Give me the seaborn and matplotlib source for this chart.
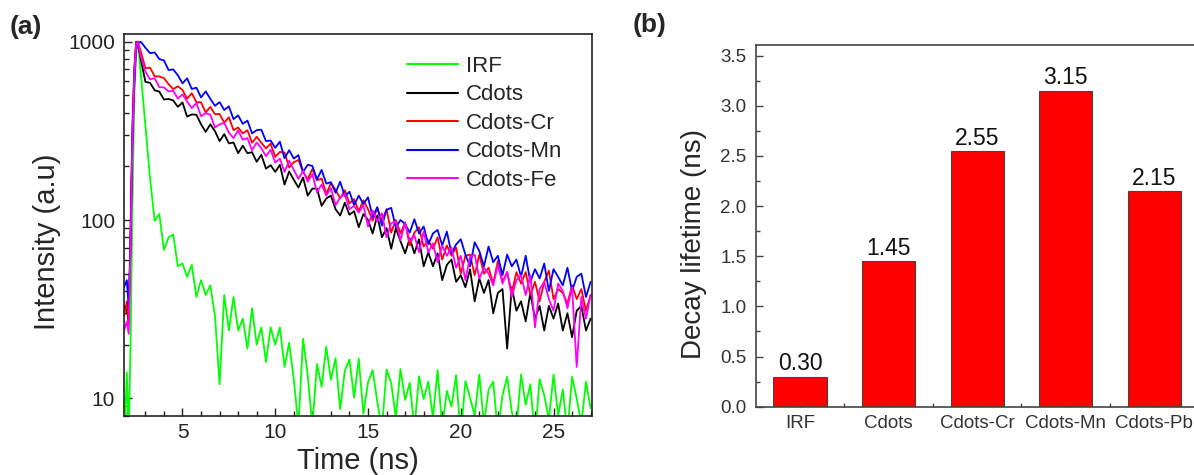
import numpy as np
import pandas as pd
import matplotlib
matplotlib.use("Agg")
import matplotlib.pyplot as plt
import seaborn as sns
from matplotlib.lines import Line2D
from matplotlib.ticker import LogLocator, NullFormatter, MultipleLocator, FormatStrFormatter

sns.set_style("ticks")
plt.rcParams["font.family"] = ["Liberation Sans", "DejaVu Sans"]

# ---- panel (a): time-resolved PL decay ----
time_head = [1.85, 2.0, 2.1, 2.2, 2.3, 2.4, 2.5, 2.6]
time_tail = [
    2.75, 3.0, 3.25, 3.5, 3.75, 4.0, 4.25, 4.5, 4.75, 5.0,
    5.25, 5.5, 5.75, 6.0, 6.25, 6.5, 6.75, 7.0, 7.25, 7.5,
    7.75, 8.0, 8.25, 8.5, 8.75, 9.0, 9.25, 9.5, 9.75, 10.0,
    10.25, 10.5, 10.75, 11.0, 11.25, 11.5, 11.75, 12.0, 12.25, 12.5,
    12.75, 13.0, 13.25, 13.5, 13.75, 14.0, 14.25, 14.5, 14.75, 15.0,
    15.25, 15.5, 15.75, 16.0, 16.25, 16.5, 16.75, 17.0, 17.25, 17.5,
    17.75, 18.0, 18.25, 18.5, 18.75, 19.0, 19.25, 19.5, 19.75, 20.0,
    20.25, 20.5, 20.75, 21.0, 21.25, 21.5, 21.75, 22.0, 22.25, 22.5,
    22.75, 23.0, 23.25, 23.5, 23.75, 24.0, 24.25, 24.5, 24.75, 25.0,
    25.25, 25.5, 25.75, 26.0, 26.25, 26.5, 26.75, 27.0,
]
time_ns = time_head + time_tail

irf = [
    5, 14, 6, 20, 120, 500, 900, 1000,
    667, 339, 172, 99, 108, 68, 80, 83, 55, 57,
    48, 56, 37, 46, 38, 43, 29, 12, 38, 24,
    37, 24, 28, 19, 32, 20, 25, 16, 25, 20,
    25, 15, 20.5, 12.7, 7, 21.6, 13.5, 7, 15.6, 11.6,
    19.5, 12.7, 16.8, 8.7, 14.3, 16.5, 10.1, 16.7, 8.2, 12.3,
    14.4, 9.6, 6.7, 14.5, 12.2, 7.8, 14.6, 9.8, 12.2, 6.7,
    13.3, 9.9, 12.4, 7.8, 14.4, 6.9, 11, 9, 13.5, 6.1,
    12.5, 10.1, 8, 13.6, 7.2, 11.2, 12.4, 6.4, 10.4, 13.2,
    8.4, 6.8, 13.6, 9.2, 12, 6, 12.8, 10.4, 7.6, 13.6,
    8, 11.2, 6.4, 13.2, 10, 7.2, 12.4, 8.8,
]
cdots = [
    33, 31, 27, 90, 330, 700, 1000, 960,
    800, 595, 588, 534, 525, 474, 477, 468, 431, 456,
    380, 391, 389, 344, 312, 344, 315, 277, 303, 269,
    272, 237, 261, 237, 240, 212, 232, 194, 203, 186,
    204, 158, 187, 168, 152, 173, 137, 150, 150, 120,
    132, 137, 115, 106, 125, 107, 112, 91, 108, 100,
    84, 106, 80, 90, 69, 90, 76, 65, 79, 65,
    78, 55, 66, 55, 65, 46, 56, 60, 45, 49,
    42, 53, 35, 47, 39, 46, 30, 39, 41, 19,
    42, 31, 35, 27, 39, 28, 33, 24, 33, 28,
    34, 24, 30, 22, 31, 33, 24, 28,
]
cdots_cr = [
    29, 35, 26, 80, 300, 660, 990, 1000,
    884, 710, 715, 639, 638, 625, 578, 542, 562, 536,
    479, 514, 458, 457, 401, 431, 392, 393, 351, 377,
    319, 330, 306, 319, 271, 293, 271, 252, 268, 226,
    241, 239, 197, 211, 217, 185, 170, 193, 167, 171,
    140, 161, 148, 132, 147, 124, 131, 112, 129, 115,
    99, 117, 99, 115, 85, 100, 84, 97, 72, 85,
    91, 71, 77, 69, 80, 60, 72, 63, 70, 50,
    63, 64, 49, 64, 50, 54, 44, 59, 45, 51,
    39, 51, 44, 51, 38, 45, 35, 45, 52, 36,
    41, 39, 34, 43, 36, 41, 31, 38,
]
cdots_mn = [
    42, 46, 32, 70, 260, 560, 900, 980,
    1000, 925, 862, 870, 799, 785, 693, 699, 648, 584,
    623, 543, 552, 487, 526, 478, 437, 458, 414, 434,
    368, 386, 346, 361, 306, 319, 321, 277, 279, 254,
    275, 222, 246, 221, 231, 186, 204, 201, 169, 191,
    160, 163, 142, 164, 136, 144, 121, 137, 123, 134,
    104, 118, 93, 114, 117, 91, 100, 95, 85, 101,
    84, 92, 73, 84, 88, 72, 86, 65, 73, 78,
    64, 55, 75, 67, 55, 71, 58, 63, 49, 64,
    55, 60, 48, 63, 45, 53, 47, 57, 40, 53,
    48, 43, 54, 40, 48, 50, 37, 45,
]
cdots_fe = [
    24, 27, 23, 70, 280, 620, 960, 1000,
    827, 680, 615, 624, 556, 554, 526, 531, 479, 506,
    462, 424, 453, 382, 397, 390, 330, 344, 351, 309,
    288, 318, 282, 288, 246, 272, 253, 228, 248, 210,
    221, 186, 215, 191, 170, 189, 164, 181, 143, 158,
    137, 151, 121, 134, 140, 115, 120, 110, 121, 92,
    113, 98, 109, 80, 96, 98, 77, 96, 76, 82,
    66, 86, 66, 74, 58, 72, 63, 70, 54, 63,
    46, 62, 64, 47, 54, 50, 43, 56, 44, 51,
    37, 46, 49, 38, 49, 25, 41, 45, 36, 31,
    44, 40, 32, 42, 15, 37, 28, 38,
]

curve_names = ["IRF", "Cdots", "Cdots-Cr", "Cdots-Mn", "Cdots-Fe"]
curve_colors = ["#00ff00", "#000000", "#ff0000", "#0000ff", "#ff00ff"]

# ---- panel (b): decay lifetimes ----
samples = ["IRF", "Cdots", "Cdots-Cr", "Cdots-Mn", "Cdots-Pb"]
lifetimes = [0.30, 1.45, 2.55, 3.15, 2.15]

decay = pd.DataFrame({
    "time": time_ns * len(curve_names),
    "intensity": irf + cdots + cdots_cr + cdots_mn + cdots_fe,
    "sample": [n for n in curve_names for _ in time_ns],
})
palette = dict(zip(curve_names, curve_colors))

fig = plt.figure(figsize=(11.94, 4.75), dpi=100)
ax1 = fig.add_axes([0.1039, 0.1242, 0.3920, 0.8042])
ax2 = fig.add_axes([0.6329, 0.1438, 0.3710, 0.7615])

# (a) decay curves
sns.lineplot(data=decay, x="time", y="intensity", hue="sample", hue_order=curve_names,
             palette=palette, estimator=None, errorbar=None, linewidth=1.3,
             legend=False, ax=ax1)
ax1.set_yscale("log")
ax1.set_xlim(1.85, 27.08)
ax1.set_ylim(7.96, 1104)
ax1.set_xticks([5, 10, 15, 20, 25])
ax1.xaxis.set_minor_locator(MultipleLocator(1))
ax1.set_yticks([10, 100, 1000], labels=["10", "100", "1000"])
ax1.yaxis.set_minor_locator(LogLocator(base=10, subs=np.arange(2, 10)))
ax1.yaxis.set_minor_formatter(NullFormatter())
ax1.tick_params(which="both", direction="in", labelsize=15, width=1, colors="#222222")
ax1.tick_params(which="major", length=6)
ax1.tick_params(which="minor", length=3.5)
ax1.tick_params(axis="y", pad=6.5)
ax1.tick_params(axis="x", pad=5)
for sp in ax1.spines.values():
    sp.set_linewidth(1.2)
    sp.set_color("#222222")
ax1.set_xlabel("Time (ns)", fontsize=21, labelpad=3.5)
ax1.set_ylabel("Intensity (a.u)", fontsize=21)
ax1.yaxis.set_label_coords(-0.135, 0.455)

handles = [Line2D([], [], color=c, lw=1.5) for c in curve_colors]
ax1.legend(handles, curve_names, loc="upper left", bbox_to_anchor=(0.605, 0.943),
           frameon=False, fontsize=16, handlelength=2.3, handletextpad=0.35,
           labelspacing=0.34, borderpad=0, borderaxespad=0)

# (b) lifetime bars
sns.barplot(x=samples, y=lifetimes, color="#ff0000", saturation=1, width=0.6,
            edgecolor="#444444", linewidth=0.8, ax=ax2)
ax2.bar_label(ax2.containers[0], fmt="%.2f", fontsize=16.5, padding=1, color="#111111")
ax2.set_xlim(-0.5, 4.5)
ax2.set_ylim(0, 3.607)
ax2.yaxis.set_major_locator(MultipleLocator(0.5))
ax2.yaxis.set_minor_locator(MultipleLocator(0.25))
ax2.yaxis.set_major_formatter(FormatStrFormatter("%.1f"))
ax2.set_xticks([0.5, 1.5, 2.5, 3.5], minor=True)
ax2.tick_params(which="both", direction="in", labelsize=13.5, width=1,
                colors="#444444", labelcolor="#333333")
ax2.tick_params(which="major", length=5)
ax2.tick_params(which="minor", length=3)
ax2.tick_params(axis="y", pad=6.5)
ax2.tick_params(axis="x", pad=6)
for sp in ax2.spines.values():
    sp.set_linewidth(1.2)
    sp.set_color("#444444")
ax2.set_xlabel("")
ax2.set_ylabel("Decay lifetime (ns)", fontsize=20)
ax2.yaxis.set_label_coords(-0.110, 0.45)

fig.text(10 / 1194, 1 - 27 / 475, "(a)", fontsize=19, fontweight="bold", va="center", ha="left")
fig.text(633 / 1194, 1 - 25 / 475, "(b)", fontsize=19, fontweight="bold", va="center", ha="left")

fig.savefig("out.png", dpi=100)
